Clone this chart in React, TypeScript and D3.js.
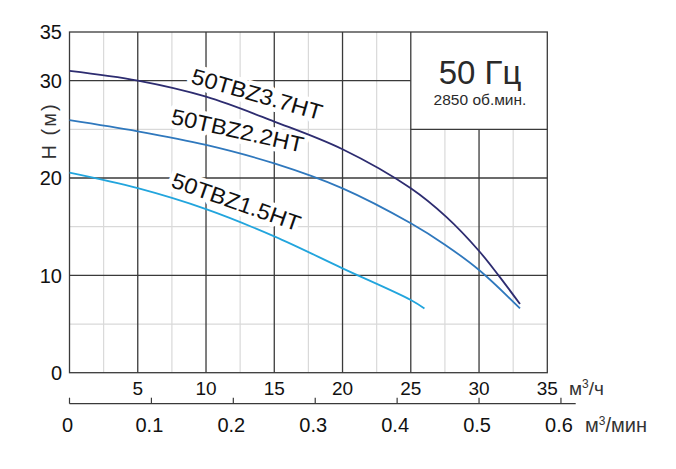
import React from "react";
import * as d3 from "d3";

// ---- data ----
const flowTicks = [5, 10, 15, 20, 25, 30, 35];
const headTickLabels = [0, 10, 20, 30, 35];
const minTicks = [0, 0.1, 0.2, 0.3, 0.4, 0.5, 0.6];
const minTickLabels = ["0", "0.1", "0.2", "0.3", "0.4", "0.5", "0.6"];

const flow37 = [0, 5, 10, 15, 20, 25, 27.6, 30, 31.4, 33];
const head37 = [31.0, 30.0, 28.35, 25.8, 22.95, 18.94, 16.0, 12.5, 10.05, 7.05];
const flow22 = [0, 5, 10, 15, 20, 25, 27.5, 30, 33];
const head22 = [25.95, 24.8, 23.4, 21.5, 18.94, 15.35, 13.15, 10.55, 6.6];
const flow15 = [0, 5, 10, 15, 20, 25, 26];
const head15 = [20.55, 18.95, 16.8, 14.0, 10.72, 7.47, 6.6];

const seriesNames = ["50TBZ3.7HT", "50TBZ2.2HT", "50TBZ1.5HT"];
const seriesColors = ["#2d2c70", "#2f78bd", "#22a5dd"];
// label anchors in data units (flow, head) and rotation angle
const labelFlow = [8.83, 7.36, 7.36];
const labelHead = [29.75, 25.6, 19.1];
const labelAngle = [16.0, 12.5, 19.3];

const FONT = "'Liberation Sans', Arial, Helvetica, sans-serif";

export default function App() {
  const W = 676, H = 469;
  const x = d3.scaleLinear().domain([0, 35]).range([69.5, 547.3]);
  const y = d3.scaleLinear().domain([0, 35]).range([372.7, 32]);
  const x2 = d3.scaleLinear().domain([0, 0.6]).range([x(0), x(36)]);
  const axisY = 403.7;

  const line = d3
    .line<[number, number]>()
    .x((d) => x(d[0]))
    .y((d) => y(d[1]))
    .curve(d3.curveCatmullRom.alpha(0.5));

  const series = [
    d3.zip(flow37, head37) as [number, number][],
    d3.zip(flow22, head22) as [number, number][],
    d3.zip(flow15, head15) as [number, number][],
  ];

  const dark = "#3a3a3a";
  const light = "#d9d9d9";

  const minorX = d3.range(2.5, 35, 5);
  const majorX = d3.range(5, 35, 5);
  const minorY = [5, 15, 25];
  const majorY = [10, 20, 30];

  const inBox = (fx: number) => fx > 25;

  return (
    <svg
      width={W}
      height={H}
      style={{ position: "absolute", left: 0, top: 0, background: "#fff" }}
      fontFamily={FONT}
    >
      <rect x={0} y={0} width={W} height={H} fill="#fff" />
      {minorX.map((v) => (
        <line
          key={"mx" + v}
          x1={x(v)}
          x2={x(v)}
          y1={y(0)}
          y2={inBox(v) ? y(25) : y(35)}
          stroke={light}
          strokeWidth={1.2}
        />
      ))}
      {minorY.map((v) => (
        <line
          key={"my" + v}
          x1={x(0)}
          x2={v === 25 ? x(25) : x(35)}
          y1={y(v)}
          y2={y(v)}
          stroke={light}
          strokeWidth={1.2}
        />
      ))}
      {majorX.map((v) => (
        <line
          key={"Mx" + v}
          x1={x(v)}
          x2={x(v)}
          y1={y(0)}
          y2={inBox(v) ? y(25) : y(35)}
          stroke={dark}
          strokeWidth={1.3}
        />
      ))}
      {majorY.map((v) => (
        <line
          key={"My" + v}
          x1={x(0)}
          x2={v >= 25 ? x(25) : x(35)}
          y1={y(v)}
          y2={y(v)}
          stroke={dark}
          strokeWidth={1.3}
        />
      ))}
      <line x1={x(25)} x2={x(35)} y1={y(25)} y2={y(25)} stroke={dark} strokeWidth={1.3} />
      <rect
        x={x(0)}
        y={y(35)}
        width={x(35) - x(0)}
        height={y(0) - y(35)}
        fill="none"
        stroke={dark}
        strokeWidth={1.3}
      />

      {/* curve labels with white halo */}
      {seriesNames.map((name, i) => (
        <g
          key={name}
          transform={`translate(${x(labelFlow[i])},${y(labelHead[i])}) rotate(${labelAngle[i]})`}
        >
          <text
            fontSize={22}
            textLength={135}
            lengthAdjust="spacingAndGlyphs"
            fill="#fff"
            stroke="#fff"
            strokeWidth={9}
            strokeLinejoin="round"
          >
            {name}
          </text>
          <text fontSize={22} textLength={135} lengthAdjust="spacingAndGlyphs" fill="#111">
            {name}
          </text>
        </g>
      ))}

      {series.map((s, i) => (
        <path
          key={"s" + i}
          d={line(s) || ""}
          fill="none"
          stroke={seriesColors[i]}
          strokeWidth={1.8}
        />
      ))}

      {headTickLabels.map((v) => (
        <text
          key={"yl" + v}
          x={62}
          y={y(v)}
          dy="0.36em"
          textAnchor="end"
          fontSize={20}
          fill="#111"
        >
          {v}
        </text>
      ))}
      <text
        transform={`translate(56,131) rotate(-90)`}
        textAnchor="middle"
        fontSize={20}
        fill="#333"
        letterSpacing={2}
        fontWeight={300}
      >
        H (м)
      </text>

      {flowTicks.map((v) => (
        <text key={"xl" + v} x={x(v)} y={395} textAnchor="middle" fontSize={19} fill="#111">
          {v}
        </text>
      ))}
      <text x={569} y={395} fontSize={19} fill="#333">
        м
        <tspan dy={-7} fontSize={12}>3</tspan>
        <tspan dy={7}>/ч</tspan>
      </text>

      <line x1={x2(0)} x2={575.7} y1={axisY} y2={axisY} stroke={dark} strokeWidth={1.3} />
      {minTicks.map((v) => (
        <line
          key={"t2" + v}
          x1={x2(v)}
          x2={x2(v)}
          y1={axisY}
          y2={axisY - 6}
          stroke={dark}
          strokeWidth={1.2}
        />
      ))}
      {minTicks.map((v, i) => (
        <text
          key={"l2" + v}
          x={x2(v) - 2}
          y={432}
          textAnchor="middle"
          fontSize={20}
          fill="#111"
        >
          {minTickLabels[i]}
        </text>
      ))}
      <text x={585} y={432} fontSize={20} fill="#333">
        м
        <tspan dy={-7} fontSize={12}>3</tspan>
        <tspan dy={7}>/мин</tspan>
      </text>

      <text x={480} y={84} textAnchor="middle" fontSize={33} fill="#2a2a2a" fontWeight={300}>
        50 Гц
      </text>
      <text x={480} y={105} textAnchor="middle" fontSize={15.5} fill="#2a2a2a">
        2850 об.мин.
      </text>
    </svg>
  );
}
